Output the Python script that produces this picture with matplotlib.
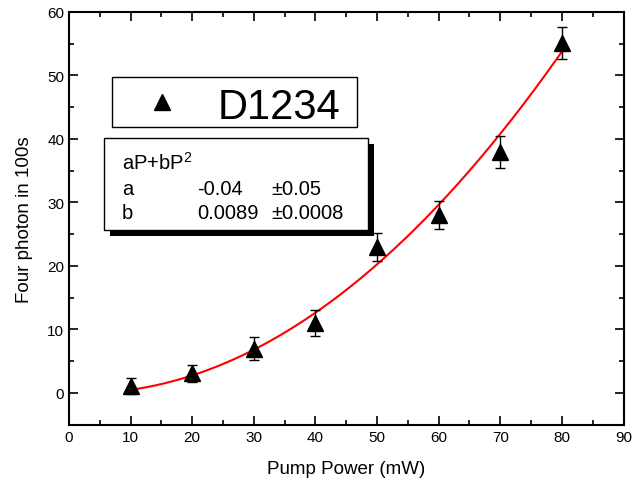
import matplotlib as mpl
mpl.use('Agg')
import matplotlib.pyplot as plt
import numpy as np
from matplotlib.patches import Rectangle
from matplotlib.lines import Line2D
from matplotlib.ticker import MultipleLocator

# data
power = [10, 20, 30, 40, 50, 60, 70, 80]
counts = [1.1, 3.1, 7.0, 11.0, 23.0, 28.1, 38.0, 55.1]
errors = [1.2, 1.3, 1.8, 2.1, 2.2, 2.2, 2.5, 2.5]

# fit aP + bP^2
fit_a = -0.04
fit_b = 0.0089
fit_lines = [["a", "-0.04", "\u00b10.05"],
             ["b", "0.0089", "\u00b10.0008"]]

W, H = 633, 485
plt.rcParams['font.family'] = ['Liberation Sans', 'DejaVu Sans']
plt.rcParams['mathtext.fontset'] = 'custom'
plt.rcParams['mathtext.rm'] = 'Liberation Sans'
plt.rcParams['mathtext.it'] = 'Liberation Sans'

def fx(x):
    return x / W

def fy(y):
    return 1 - y / H

fig = plt.figure(figsize=(W / 100, H / 100), dpi=100)
ax = fig.add_axes([fx(69), fy(425.7), (623.5 - 69) / W, (425.7 - 13) / H])

p = np.linspace(power[0], power[-1], 200)
ax.plot(p, fit_a * p + fit_b * p ** 2, color='red', lw=1.5, zorder=2)
ax.errorbar(power, counts, yerr=errors, fmt='^', color='black', ms=11,
            elinewidth=1, capsize=3.5, capthick=1, zorder=3)

ax.set_xlim(0, 90)
ax.set_ylim(-5, 60)
ax.xaxis.set_major_locator(MultipleLocator(10))
ax.xaxis.set_minor_locator(MultipleLocator(5))
ax.yaxis.set_major_locator(MultipleLocator(10))
ax.yaxis.set_minor_locator(MultipleLocator(5))
ax.tick_params(which='both', direction='in', top=True, right=True,
               labelsize=11, width=1.2)
ax.tick_params(which='major', length=6.5)
ax.tick_params(which='minor', length=3.5)
for s in ax.spines.values():
    s.set_linewidth(1.5)

ax.set_xlabel("Pump Power (mW)", fontsize=13.5, labelpad=12)
ax.set_ylabel("Four photon in 100s", fontsize=13.5, labelpad=10)

# legend box
fig.add_artist(Rectangle((fx(112), fy(128.3)), 245 / W, 50 / H,
                         transform=fig.transFigure, facecolor='white',
                         edgecolor='black', lw=1))
fig.add_artist(Line2D([fx(161.7)], [fy(103)], marker='^', ms=11,
                      color='black', transform=fig.transFigure))
fig.text(fx(218), fy(119.3), "D1234", fontsize=30, va='baseline')

# fit parameter box with shadow
bw, bh = 368.3 - 104, 231 - 139.3
fig.add_artist(Rectangle((fx(110), fy(237)), bw / W, bh / H,
                         transform=fig.transFigure, facecolor='black',
                         edgecolor='black', lw=0))
fig.add_artist(Rectangle((fx(104), fy(231)), bw / W, bh / H,
                         transform=fig.transFigure, facecolor='white',
                         edgecolor='black', lw=1))
fig.text(fx(122), fy(170), "aP+bP$^{2}$", fontsize=14.5, va='baseline')
cols = [122, 197, 271]
for i, row in enumerate(fit_lines):
    for c, t in zip(cols, row):
        fig.text(fx(c), fy(195 + 24 * i), t, fontsize=14.5, va='baseline')

fig.savefig("out.png", dpi=100)
